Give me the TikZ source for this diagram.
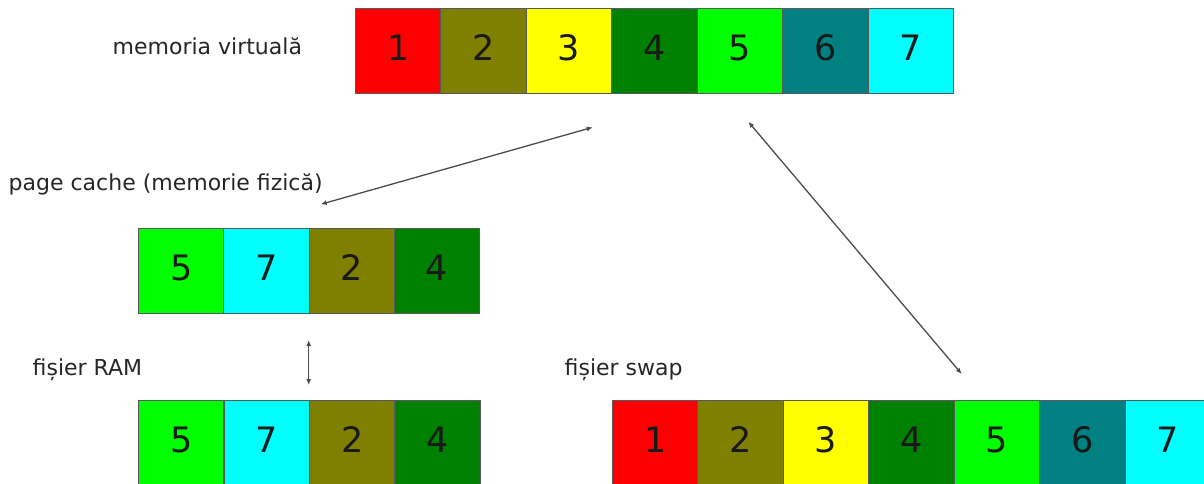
\documentclass[tikz,border=0pt]{standalone}
\usepackage{fontspec}
\setmainfont{DejaVu Sans}
\usetikzlibrary{arrows.meta}

% page colours
\definecolor{pgRed}{HTML}{FF0000}
\definecolor{pgOlive}{HTML}{808000}
\definecolor{pgYellow}{HTML}{FFFF00}
\definecolor{pgGreen}{HTML}{008000}
\definecolor{pgLime}{HTML}{00FF00}
\definecolor{pgTeal}{HTML}{008080}
\definecolor{pgCyan}{HTML}{00FFFF}

\tikzset{
  cell/.style={draw=black!65, line width=0.9pt, minimum width=85.4pt,
    minimum height=85pt, inner sep=0pt, anchor=north west,
    font=\fontsize{35}{40}\selectfont, text depth=6pt, text=black!90},
  lbl/.style={anchor=base west, inner sep=0pt,
    font=\fontsize{22}{26}\selectfont, text=black!85},
  link/.style={draw=black!70, line width=1.3pt,
    {Latex[length=6pt,width=5pt]}-{Latex[length=6pt,width=5pt]}}
}

\begin{document}
\begin{tikzpicture}[x=1pt, y=-1pt]
  \useasboundingbox (0,0) rectangle (1204,484);
  \clip (0,0) rectangle (1204,484);

  % virtual memory pages
  \foreach \n/\c [count=\i] in {1/pgRed,2/pgOlive,3/pgYellow,4/pgGreen,5/pgLime,6/pgTeal,7/pgCyan}
    \node[cell, fill=\c] (v\i) at ({355+(\i-1)*85.43},8) {\n};

  % page cache
  \foreach \n/\c [count=\i] in {5/pgLime,7/pgCyan,2/pgOlive,4/pgGreen}
    \node[cell, fill=\c] (c\i) at ({138+(\i-1)*85.3},228) {\n};

  % RAM file
  \foreach \n/\c [count=\i] in {5/pgLime,7/pgCyan,2/pgOlive,4/pgGreen}
    \node[cell, fill=\c] (r\i) at ({138+(\i-1)*85.5},400) {\n};

  % swap file
  \foreach \n/\c [count=\i] in {1/pgRed,2/pgOlive,3/pgYellow,4/pgGreen,5/pgLime,6/pgTeal,7/pgCyan}
    \node[cell, fill=\c] (s\i) at ({612+(\i-1)*85.43},400) {\n};

  % labels
  \node[lbl] (lv) at (112.5,55) {memoria virtuală};
  \node[lbl] (lc) at (8.5,190) {page cache (memorie fizică)};
  \node[lbl] (lr) at (32.5,375) {fișier RAM};
  \node[lbl] (ls) at (564.5,375) {fișier swap};

  % connector ends
  \coordinate (vmA) at (592.7,127.3);
  \coordinate (pcA) at (320.7,204.3);
  \coordinate (pcB) at (308.7,340);
  \coordinate (rfB) at (308.7,385);
  \coordinate (vmC) at (748.3,121.7);
  \coordinate (swC) at (961.7,374);

  \draw[link] (vmA) -- (pcA);
  \draw[link] (pcB) -- (rfB);
  \draw[link] (vmC) -- (swC);
\end{tikzpicture}
\end{document}
